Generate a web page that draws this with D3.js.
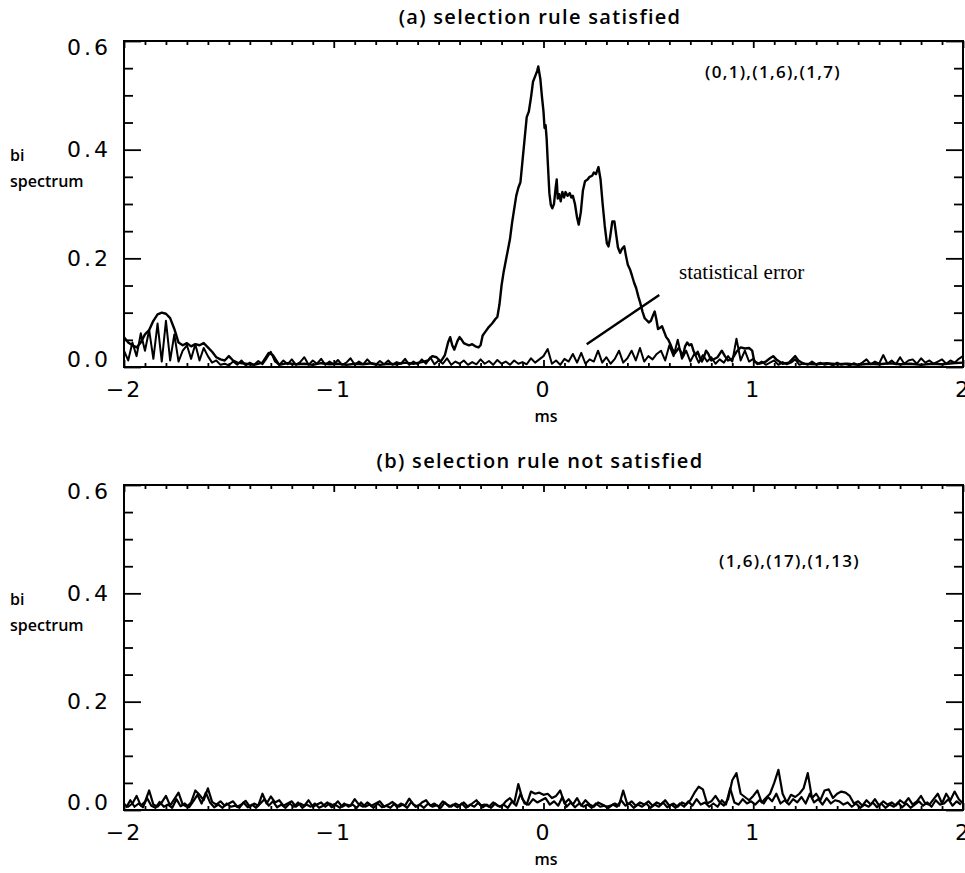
<!DOCTYPE html>
<html>
<head>
<meta charset="utf-8">
<script src="https://cdn.jsdelivr.net/npm/d3@7/dist/d3.min.js"></script>
<style>
  html, body { margin: 0; padding: 0; background: #fff; }
  svg { display: block; }
</style>
</head>
<body>
<svg id="chart" width="965" height="873"></svg>
<script>
// ---------------- DATA ----------------
const xDomain = [-2, 2];
const yDomain = [0, 0.6];
const xTickValues = [-2, -1, 0, 1, 2];
const xTickLabels = ["\u22122", "\u22121", "0", "1", "2"];
const yTickValues = [0, 0.2, 0.4, 0.6];
const yTickLabels = ["0.0", "0.2", "0.4", "0.6"];

const panelTitles = ["(a) selection rule satisfied", "(b) selection rule not satisfied"];
const panelModes = ["(0,1),(1,6),(1,7)", "(1,6),(17),(1,13)"];
const xLabel = "ms";
const yLabelLines = ["bi", "spectrum"];
const errorLabel = "statistical error";
// pointer line for "statistical error" (data coords: [t, value])
const errorPointer = [[0.206, 0.042], [0.552, 0.1325]];

// sampling grid of the noise-like traces (ms)
const gridA = d3.range(-2, 2.0001, 0.02);   // 201 samples
const gridB = d3.range(-1.99, 2.0, 0.02);   // 200 samples

// (a) bispectrum of the selected mode triplet: [t (ms), value]
const panelA_main = [
 [-2.00,0.055],[-1.98,0.045],[-1.96,0.040],[-1.94,0.036],[-1.92,0.045],[-1.90,0.060],[-1.88,0.068],
 [-1.86,0.085],[-1.84,0.097],[-1.82,0.100],[-1.80,0.098],[-1.78,0.090],[-1.76,0.070],[-1.74,0.045],
 [-1.72,0.040],[-1.70,0.044],[-1.68,0.038],[-1.66,0.042],[-1.64,0.040],[-1.62,0.044],[-1.60,0.036],
 [-1.58,0.028],[-1.56,0.018],[-1.54,0.014],[-1.52,0.012],[-1.50,0.020],[-1.48,0.012],[-1.46,0.008],
 [-1.42,0.006],[-1.38,0.004],[-1.34,0.008],[-1.31,0.026],[-1.29,0.022],[-1.26,0.004],[-1.22,0.007],
 [-1.18,0.005],[-1.14,0.006],[-1.10,0.004],[-1.06,0.007],[-1.02,0.005],[-0.98,0.006],[-0.94,0.004],
 [-0.90,0.006],[-0.86,0.005],[-0.82,0.007],[-0.78,0.004],[-0.74,0.006],[-0.70,0.005],[-0.66,0.008],
 [-0.62,0.006],[-0.58,0.009],[-0.55,0.012],[-0.53,0.020],[-0.51,0.018],[-0.49,0.010],[-0.47,0.022],
 [-0.455,0.045],[-0.445,0.055],[-0.435,0.040],[-0.425,0.032],[-0.41,0.048],[-0.40,0.055],[-0.39,0.050],
 [-0.38,0.044],[-0.37,0.042],[-0.355,0.040],[-0.34,0.042],[-0.325,0.038],[-0.31,0.036],[-0.30,0.040],
 [-0.29,0.058],[-0.275,0.066],[-0.26,0.074],[-0.245,0.080],[-0.23,0.088],[-0.22,0.092],[-0.21,0.115],
 [-0.20,0.150],[-0.19,0.175],[-0.18,0.195],[-0.17,0.215],[-0.16,0.235],[-0.15,0.265],[-0.14,0.290],
 [-0.13,0.315],[-0.12,0.330],[-0.11,0.340],[-0.10,0.380],[-0.09,0.420],[-0.08,0.460],[-0.07,0.470],
 [-0.06,0.495],[-0.05,0.525],[-0.04,0.535],[-0.03,0.545],[-0.025,0.553],[-0.015,0.530],[-0.008,0.500],
 [0.000,0.470],[0.005,0.440],[0.010,0.445],[0.015,0.420],[0.020,0.380],[0.028,0.320],[0.035,0.298],
 [0.042,0.292],[0.050,0.300],[0.058,0.330],[0.063,0.345],[0.068,0.310],[0.075,0.318],[0.082,0.305],
 [0.090,0.322],[0.098,0.312],[0.105,0.322],[0.115,0.315],[0.125,0.320],[0.133,0.312],[0.140,0.315],
 [0.150,0.300],[0.160,0.275],[0.168,0.262],[0.178,0.285],[0.188,0.325],[0.198,0.342],[0.210,0.345],
 [0.220,0.350],[0.232,0.352],[0.240,0.358],[0.250,0.355],[0.262,0.368],[0.272,0.345],[0.282,0.300],
 [0.292,0.260],[0.302,0.228],[0.310,0.222],[0.318,0.240],[0.328,0.268],[0.338,0.268],[0.346,0.245],
 [0.355,0.220],[0.365,0.210],[0.375,0.218],[0.385,0.222],[0.393,0.205],[0.402,0.188],[0.412,0.180],
 [0.422,0.168],[0.432,0.155],[0.442,0.145],[0.452,0.130],[0.462,0.117],[0.472,0.102],[0.482,0.090],
 [0.492,0.086],[0.502,0.082],[0.512,0.085],[0.522,0.095],[0.530,0.102],[0.538,0.088],[0.546,0.070],
 [0.555,0.072],[0.565,0.075],[0.575,0.065],[0.585,0.055],[0.595,0.050],[0.605,0.042],[0.615,0.032],
 [0.625,0.025],[0.635,0.030],[0.645,0.035],[0.655,0.028],[0.665,0.020],[0.675,0.038],[0.685,0.045],
 [0.695,0.040],[0.705,0.042],[0.715,0.030],[0.725,0.022],[0.735,0.028],[0.745,0.018],[0.755,0.010],
 [0.765,0.018],[0.775,0.030],[0.785,0.025],[0.80,0.012],[0.83,0.018],[0.85,0.030],[0.865,0.020],
 [0.88,0.012],[0.90,0.015],[0.92,0.028],[0.94,0.036],[0.96,0.034],[0.98,0.035],[0.995,0.030],
 [1.005,0.010],[1.03,0.006],[1.06,0.010],[1.08,0.016],[1.095,0.020],[1.11,0.014],[1.14,0.006],
 [1.17,0.008],[1.19,0.016],[1.20,0.020],[1.215,0.012],[1.24,0.006],[1.30,0.005],[1.35,0.007],
 [1.40,0.005],[1.45,0.006],[1.50,0.004],[1.55,0.006],[1.60,0.005],[1.65,0.007],[1.70,0.005],
 [1.75,0.006],[1.80,0.004],[1.85,0.006],[1.90,0.005],[1.95,0.007],[2.00,0.008]
];

// (a) statistical error level, sampled on gridA
const panelA_error = [
 0.030,0.012,0.045,0.020,0.062,0.030,0.068,0.015,0.080,0.010,
 0.085,0.012,0.060,0.010,0.030,0.040,0.015,0.042,0.012,0.035,
 0.020,0.008,0.012,0.004,0.006,0.003,0.010,0.004,0.012,0.003,
 0.008,0.004,0.011,0.005,0.016,0.028,0.010,0.004,0.012,0.005,
 0.014,0.004,0.009,0.018,0.004,0.012,0.006,0.015,0.004,0.010,
 0.005,0.013,0.004,0.008,0.016,0.004,0.010,0.005,0.014,0.006,
 0.004,0.011,0.005,0.012,0.004,0.009,0.006,0.015,0.004,0.010,
 0.005,0.014,0.006,0.018,0.005,0.012,0.006,0.016,0.004,0.010,
 0.006,0.012,0.004,0.009,0.005,0.014,0.006,0.011,0.004,0.013,
 0.006,0.010,0.004,0.012,0.006,0.009,0.005,0.016,0.008,0.014,
 0.020,0.033,0.006,0.012,0.004,0.015,0.010,0.024,0.008,0.026,
 0.006,0.014,0.010,0.030,0.008,0.018,0.006,0.015,0.030,0.008,
 0.016,0.030,0.012,0.035,0.010,0.020,0.014,0.024,0.030,0.012,
 0.040,0.020,0.050,0.015,0.030,0.010,0.025,0.008,0.022,0.010,
 0.018,0.006,0.014,0.008,0.020,0.010,0.052,0.012,0.030,0.010,
 0.015,0.005,0.010,0.004,0.008,0.012,0.004,0.009,0.005,0.008,
 0.014,0.004,0.007,0.004,0.010,0.005,0.008,0.004,0.006,0.003,
 0.008,0.004,0.006,0.003,0.007,0.004,0.008,0.014,0.005,0.010,
 0.006,0.022,0.006,0.012,0.005,0.018,0.006,0.012,0.014,0.006,
 0.016,0.008,0.012,0.006,0.010,0.014,0.006,0.012,0.008,0.015,
 0.020
];

// (b) bispectrum of the non-selected triplet, sampled on gridA
const panelB_main = [
 0.010,0.006,0.012,0.026,0.008,0.015,0.036,0.010,0.006,0.014,
 0.026,0.008,0.020,0.032,0.010,0.006,0.014,0.036,0.028,0.018,
 0.040,0.015,0.010,0.016,0.008,0.012,0.016,0.006,0.010,0.017,
 0.006,0.012,0.008,0.030,0.012,0.025,0.014,0.018,0.008,0.012,
 0.016,0.006,0.012,0.008,0.018,0.006,0.010,0.014,0.006,0.012,
 0.008,0.016,0.006,0.010,0.008,0.020,0.010,0.006,0.014,0.008,
 0.012,0.016,0.006,0.010,0.015,0.006,0.012,0.008,0.021,0.010,
 0.006,0.014,0.018,0.008,0.012,0.006,0.016,0.010,0.006,0.012,
 0.008,0.014,0.006,0.012,0.018,0.008,0.010,0.006,0.014,0.008,
 0.006,0.016,0.022,0.012,0.048,0.020,0.010,0.034,0.030,0.032,
 0.028,0.030,0.022,0.026,0.036,0.012,0.020,0.010,0.022,0.008,
 0.018,0.010,0.006,0.014,0.010,0.006,0.008,0.012,0.008,0.036,
 0.010,0.016,0.008,0.014,0.010,0.016,0.008,0.014,0.010,0.018,
 0.008,0.012,0.006,0.014,0.010,0.018,0.032,0.043,0.038,0.012,
 0.016,0.026,0.014,0.008,0.020,0.055,0.068,0.030,0.024,0.018,
 0.026,0.036,0.014,0.022,0.030,0.050,0.074,0.030,0.014,0.028,
 0.024,0.030,0.040,0.068,0.022,0.030,0.018,0.036,0.038,0.022,
 0.030,0.034,0.032,0.026,0.012,0.016,0.008,0.018,0.010,0.020,
 0.008,0.016,0.010,0.014,0.008,0.018,0.012,0.022,0.010,0.016,
 0.026,0.012,0.010,0.020,0.030,0.012,0.030,0.018,0.034,0.020,
 0.012
];

// (b) statistical error level, sampled on gridB
const panelB_error = [
 0.004,0.018,0.006,0.012,0.005,0.022,0.008,0.004,0.015,0.006,
 0.010,0.004,0.020,0.007,0.012,0.005,0.016,0.028,0.012,0.032,
 0.014,0.005,0.010,0.004,0.012,0.006,0.008,0.004,0.014,0.005,
 0.010,0.004,0.012,0.020,0.008,0.016,0.005,0.010,0.004,0.012,
 0.006,0.014,0.004,0.010,0.006,0.012,0.004,0.008,0.014,0.005,
 0.009,0.004,0.012,0.006,0.010,0.004,0.014,0.006,0.010,0.004,
 0.012,0.005,0.008,0.004,0.012,0.006,0.010,0.004,0.015,0.006,
 0.010,0.004,0.012,0.006,0.009,0.004,0.014,0.006,0.010,0.005,
 0.012,0.004,0.010,0.006,0.014,0.005,0.010,0.004,0.012,0.006,
 0.010,0.004,0.016,0.008,0.030,0.012,0.010,0.020,0.014,0.018,
 0.022,0.010,0.016,0.008,0.024,0.006,0.014,0.005,0.012,0.006,
 0.010,0.004,0.012,0.006,0.008,0.004,0.010,0.006,0.018,0.008,
 0.012,0.004,0.010,0.006,0.012,0.004,0.010,0.006,0.014,0.005,
 0.010,0.004,0.012,0.006,0.016,0.008,0.020,0.010,0.014,0.006,
 0.012,0.006,0.018,0.010,0.040,0.014,0.010,0.020,0.012,0.016,
 0.010,0.018,0.012,0.024,0.016,0.030,0.012,0.018,0.010,0.020,
 0.014,0.024,0.012,0.030,0.014,0.020,0.010,0.022,0.012,0.018,
 0.016,0.010,0.014,0.006,0.012,0.004,0.010,0.006,0.014,0.005,
 0.012,0.004,0.010,0.006,0.014,0.005,0.012,0.004,0.010,0.016,
 0.008,0.014,0.006,0.018,0.010,0.012,0.020,0.008,0.016,0.010
];

// ---------------- LAYOUT ----------------
const svg = d3.select("#chart");
const plotLeft = 124, plotRight = 963;
const panels = [
  { top: 41, bottom: 367, title: panelTitles[0], mode: panelModes[0],
    series: [
      { pts: panelA_error.map((v, i) => [gridA[i], v]), w: 2.0 },
      { pts: panelA_main, w: 2.4 }
    ], pointer: true },
  { top: 485, bottom: 810, title: panelTitles[1], mode: panelModes[1],
    series: [
      { pts: panelB_error.map((v, i) => [gridB[i], v]), w: 2.2 },
      { pts: panelB_main.map((v, i) => [gridA[i], v]), w: 2.2 }
    ], pointer: false }
];

const x = d3.scaleLinear().domain(xDomain).range([plotLeft, plotRight]);
const xMinor = d3.range(-20, 21).map(k => k / 10).filter(v => !xTickValues.includes(v));
const yMinor = d3.range(0, 13).map(k => k * 0.05).filter(v => !yTickValues.some(t => Math.abs(t - v) < 1e-9));

const tickFont = "'DejaVu Sans', sans-serif";
const sideFont = "'Open Sans', 'Noto Sans', sans-serif";

panels.forEach((p, pi) => {
  const y = d3.scaleLinear().domain(yDomain).range([p.bottom, p.top]);
  const g = svg.append("g");

  const clipId = "clip" + pi;
  svg.append("clipPath").attr("id", clipId)
    .append("rect").attr("x", plotLeft).attr("y", p.top - 1)
    .attr("width", plotRight - plotLeft).attr("height", p.bottom - p.top + 1);

  // data
  const line = d3.line().x(d => x(d[0])).y(d => y(d[1]));
  const dg = g.append("g").attr("clip-path", `url(#${clipId})`);
  p.series.forEach(s => {
    dg.append("path").attr("d", line(s.pts))
      .attr("fill", "none").attr("stroke", "#000")
      .attr("stroke-width", s.w).attr("stroke-linejoin", "round");
  });

  // axes (ticks inward)
  const styleAxis = sel => {
    sel.select(".domain").remove();
    sel.selectAll(".tick line").attr("stroke", "#000").attr("stroke-width", 1.8);
    sel.selectAll(".tick text").remove();
  };
  g.append("g").attr("transform", `translate(${plotLeft},0)`)
    .call(d3.axisLeft(y).tickValues(yTickValues).tickSize(-17)).call(styleAxis);
  g.append("g").attr("transform", `translate(${plotLeft},0)`)
    .call(d3.axisLeft(y).tickValues(yMinor).tickSize(-9)).call(styleAxis);
  g.append("g").attr("transform", `translate(${plotRight},0)`)
    .call(d3.axisRight(y).tickValues(yTickValues).tickSize(-17)).call(styleAxis);
  g.append("g").attr("transform", `translate(${plotRight},0)`)
    .call(d3.axisRight(y).tickValues(yMinor).tickSize(-9)).call(styleAxis);
  g.append("g").attr("transform", `translate(0,${p.top})`)
    .call(d3.axisTop(x).tickValues(xTickValues).tickSize(-7)).call(styleAxis);
  g.append("g").attr("transform", `translate(0,${p.top})`)
    .call(d3.axisTop(x).tickValues(xMinor).tickSize(-4)).call(styleAxis);
  g.append("g").attr("transform", `translate(0,${p.bottom})`)
    .call(d3.axisBottom(x).tickValues(xTickValues).tickSize(-7)).call(styleAxis);
  g.append("g").attr("transform", `translate(0,${p.bottom})`)
    .call(d3.axisBottom(x).tickValues(xMinor).tickSize(-4)).call(styleAxis);

  // frame
  g.append("rect").attr("x", plotLeft).attr("y", p.top)
    .attr("width", plotRight - plotLeft).attr("height", p.bottom - p.top)
    .attr("fill", "none").attr("stroke", "#000").attr("stroke-width", 2);

  // y tick labels
  yTickValues.forEach((v, i) => {
    let yy = y(v);
    if (i === 0) yy -= 8;
    if (i === yTickValues.length - 1) yy += 6;
    g.append("text").attr("x", 111).attr("y", yy)
      .attr("text-anchor", "end").attr("dominant-baseline", "central")
      .attr("font-family", tickFont).attr("font-size", 22)
      .attr("letter-spacing", 3)
      .text(yTickLabels[i]);
  });
  // x tick labels
  xTickValues.forEach((v, i) => {
    g.append("text").attr("x", x(v)).attr("y", p.bottom + 30)
      .attr("text-anchor", "middle")
      .attr("font-family", tickFont).attr("font-size", 22)
      .attr("letter-spacing", 2)
      .text(xTickLabels[i]);
  });

  // x label
  g.append("text").attr("x", 546).attr("y", p.bottom + 55)
    .attr("text-anchor", "middle").attr("font-family", sideFont)
    .attr("font-weight", 600).attr("font-size", 16).text(xLabel);

  // title
  g.append("text").attr("x", 540).attr("y", p.top - 17)
    .attr("text-anchor", "middle").attr("font-family", sideFont)
    .attr("font-weight", 600).attr("font-size", 20).attr("letter-spacing", 1.3)
    .text(p.title);

  // y label
  g.append("text").attr("x", 10).attr("y", y(0.6) + 120)
    .attr("font-family", sideFont).attr("font-weight", 600).attr("font-size", 16)
    .text(yLabelLines[0]);
  g.append("text").attr("x", 10).attr("y", y(0.6) + 146)
    .attr("font-family", sideFont).attr("font-weight", 600).attr("font-size", 16)
    .text(yLabelLines[1]);

  // mode label
  g.append("text").attr("x", pi === 0 ? 705 : 719).attr("y", pi === 0 ? p.top + 37 : p.top + 82)
    .attr("font-family", sideFont).attr("font-weight", 600).attr("font-size", 17)
    .attr("letter-spacing", 1.3)
    .text(p.mode);

  if (p.pointer) {
    g.append("line")
      .attr("x1", x(errorPointer[0][0])).attr("y1", y(errorPointer[0][1]))
      .attr("x2", x(errorPointer[1][0])).attr("y2", y(errorPointer[1][1]))
      .attr("stroke", "#000").attr("stroke-width", 2.4);
    g.append("text").attr("x", 679).attr("y", y(0.2) + 21)
      .attr("font-family", "'Liberation Serif', 'Times New Roman', serif")
      .attr("font-size", 21).text(errorLabel);
  }
});
</script>
</body>
</html>
